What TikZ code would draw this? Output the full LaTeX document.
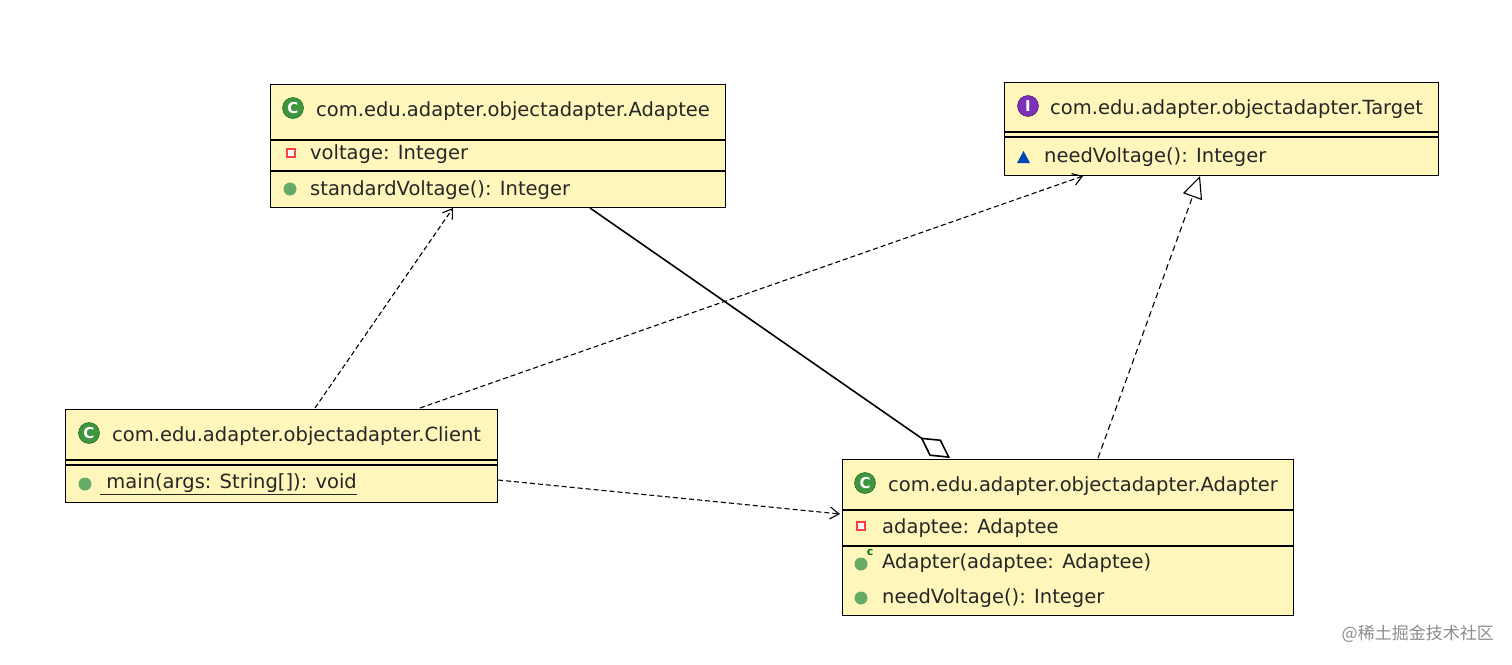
\documentclass[tikz,border=0pt]{standalone}
\usepackage{fontspec}
\setmainfont{DejaVu Sans}
\newfontfamily\cjk{Noto Sans CJK SC}
\usetikzlibrary{arrows.meta}
\begin{document}
\begin{tikzpicture}[x=1pt,y=-1pt,
  box/.style={draw,line width=1.4pt,fill=yellow!22!white!95!orange,anchor=north west,inner sep=0},
  txt/.style={anchor=west,inner sep=0,font=\fontsize{19.5}{19.5}\selectfont,text=black!85},
  dep/.style={dashed,dash pattern=on 5pt off 3pt,line width=1.1pt,-{Straight Barb[length=9pt,width=12pt]}},
  real/.style={dashed,dash pattern=on 6pt off 4pt,line width=1.1pt,-{Triangle[open,length=22pt,width=20pt,fill=white]}},
  aggr/.style={line width=1.6pt,-{Diamond[open,length=36pt,width=20pt]}},
  cls/.style={circle,fill=green!45!black!75,draw=green!35!black,inner sep=0,minimum size=21pt,text=white,font=\bfseries\fontsize{15}{15}\selectfont},
  intf/.style={cls,fill=violet!70!blue!80,draw=violet!60!black},
  pub/.style={circle,fill=green!45!black!60,inner sep=0,minimum size=13pt},
  priv/.style={draw=red!75,fill=white,line width=1.6pt,inner sep=0,minimum size=8pt}]
\useasboundingbox (0,0) rectangle (1512,664);
% Adaptee
\node[box,minimum width=455pt,minimum height=123pt] (adaptee) at (270,84) {};
\draw[line width=1.4pt] (270,140) -- (725,140) (270,171) -- (725,171);
\node[cls] at (293,108) {C};
\node[txt] at (316,111) {com.edu.adapter.objectadapter.Adaptee};
\node[priv] at (291,153) {};
\node[txt] at (310,154) {voltage: Integer};
\node[pub] at (290,189) {};
\node[txt] at (310,190) {standardVoltage(): Integer};
% Target
\node[box,minimum width=434pt,minimum height=93pt] (target) at (1004,82) {};
\draw[line width=1.4pt] (1004,132) -- (1438,132) (1004,137) -- (1438,137);
\node[intf] at (1028,106) {I};
\node[txt] at (1050,109) {com.edu.adapter.objectadapter.Target};
\fill[blue!60!cyan!70!black] (1017,163) -- (1030,163) -- (1023.5,151) -- cycle;
\node[txt] at (1044,157) {needVoltage(): Integer};
% Client
\node[box,minimum width=432pt,minimum height=93pt] (client) at (65,409) {};
\draw[line width=1.4pt] (65,460) -- (497,460) (65,465) -- (497,465);
\node[cls] at (89,433) {C};
\node[txt] at (112,436) {com.edu.adapter.objectadapter.Client};
\node[pub] at (85,484) {};
\node[txt] (m) at (100,484) {\underline{ main(args: String[]): void}};
% Adapter
\node[box,minimum width=451pt,minimum height=156pt] (adapter) at (842,459) {};
\draw[line width=1.4pt] (842,510) -- (1293,510) (842,546) -- (1293,546);
\node[cls] at (865,483) {C};
\node[txt] at (888,486) {com.edu.adapter.objectadapter.Adapter};
\node[priv] at (861,526) {};
\node[txt] at (882,528) {adaptee: Adaptee};
\node[pub] at (861,564) {};
\node[text=green!45!black,font=\bfseries\fontsize{11}{11}\selectfont,inner sep=0] at (870,552) {c};
\node[txt] at (882,563) {Adapter(adaptee: Adaptee)};
\node[pub] at (861,598) {};
\node[txt] at (882,598) {needVoltage(): Integer};
% connectors
\coordinate (c1) at (315,408); \coordinate (a1) at (453,208);
\coordinate (c2) at (420,408); \coordinate (t1) at (1083,176);
\coordinate (c3) at (498,480); \coordinate (d1) at (840,514);
\coordinate (a2) at (590,208); \coordinate (d2) at (950,458);
\coordinate (d3) at (1098,458); \coordinate (t2) at (1200,176);
\draw[dep] (c1) -- (a1);
\draw[dep] (c2) -- (t1);
\draw[dep] (c3) -- (d1);
\draw[aggr] (a2) -- (d2);
\draw[real] (d3) -- (t2);
\node[anchor=east,inner sep=0,text=black!45,font=\cjk\fontsize{17}{17}\selectfont] at (1494,634) {@稀土掘金技术社区};
\end{tikzpicture}
\end{document}
